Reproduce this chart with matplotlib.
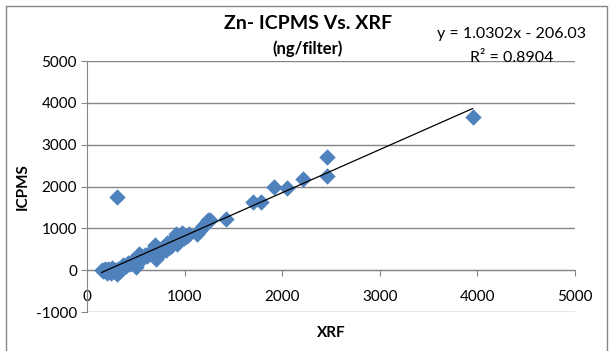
import numpy as np
import matplotlib
matplotlib.use("Agg")
import matplotlib.pyplot as plt
from matplotlib.patches import Rectangle

plt.rcParams["font.family"] = ["Lato", "DejaVu Sans"]
plt.rcParams["axes.unicode_minus"] = False

# XRF vs ICPMS zinc (ng/filter)
xrf = [145, 165, 185, 200, 215, 225, 240, 255, 270, 285, 300, 315, 330, 345,
       370, 395, 420, 440, 460, 480, 495, 510, 525, 545, 570, 595, 615, 635,
       655, 670, 690, 700, 705, 720, 735, 750, 770, 790, 805, 820, 835, 850,
       860, 870, 885, 895, 905, 915, 930, 950, 975, 995, 1020, 1045, 1120,
       1140, 1165, 1190, 1215, 1235, 1260, 1420, 1695, 1780, 1910, 2050, 2210,
       2460, 2460, 3950, 300]
icpms = [0, -30, 20, -60, 30, 0, -70, 40, -20, 10, -80, 30, -10, 60,
         120, 90, 170, 140, 210, 230, 70, 300, 380, 330, 290, 360, 340, 420,
         400, 380, 600, 260, 330, 450, 370, 430, 520, 560, 490, 640, 610, 560,
         700, 590, 680, 760, 860, 620, 700, 790, 880, 760, 820, 860, 860,
         930, 980, 1050, 1120, 1190, 1200, 1235, 1635, 1620, 1980, 1970, 2190,
         2710, 2250, 3650, 1750]

# Excel linear trendline
slope = 1.0302
intercept = -206.03
r2 = 0.8904

fig = plt.figure(figsize=(6.12, 3.51), dpi=100)
ax = fig.add_axes([0.1428, 0.1111, 0.9395 - 0.1428, 0.8262 - 0.1111])

grid_color = "#868686"
ax.set_xlim(0, 5000)
ax.set_ylim(-1000, 5000)
ax.set_xticks(np.arange(0, 5001, 1000))
ax.set_yticks(np.arange(-1000, 5001, 1000))
ax.yaxis.grid(True, color=grid_color, linewidth=1.0)
ax.set_axisbelow(True)

ax.spines["top"].set_visible(False)
ax.spines["right"].set_visible(False)
ax.spines["left"].set_color(grid_color)
ax.spines["bottom"].set_color(grid_color)
ax.spines["bottom"].set_position(("data", 0))
ax.tick_params(axis="both", colors=grid_color, labelcolor="black", labelsize=11,
               direction="out", length=4)
ax.tick_params(axis="x", pad=10)

ax.scatter(xrf, icpms, marker="D", s=70, color="#4F81BD", zorder=3, linewidths=0)

xs = np.array([min(xrf), max(xrf)])
ax.plot(xs, slope * xs + intercept, color="black", linewidth=0.9, zorder=4)

ax.set_xlabel("XRF", fontsize=11, fontweight="bold")
ax.xaxis.set_label_coords(0.5, -0.055)
ax.set_ylabel("ICPMS", fontsize=11, fontweight="bold")
ax.yaxis.set_label_coords(-0.118, 0.5)

fig.text(0.503, 0.932, "Zn- ICPMS Vs. XRF", ha="center", va="center",
         fontsize=14, fontweight="bold")
fig.text(0.503, 0.86, "(ng/filter)", ha="center", va="center",
         fontsize=12, fontweight="bold")
fig.text(0.836, 0.903, f"y = {slope}x - {abs(intercept)}", ha="center", va="center",
         fontsize=11.5)
fig.text(0.836, 0.836, f"R² = {r2}", ha="center", va="center", fontsize=11.5)

fig.patches.append(Rectangle((6 / 612, -0.05), 601 / 612, 1.05 - 6 / 351,
                             transform=fig.transFigure, fill=False,
                             edgecolor=grid_color, linewidth=1.0))

fig.savefig("out.png", dpi=100)
